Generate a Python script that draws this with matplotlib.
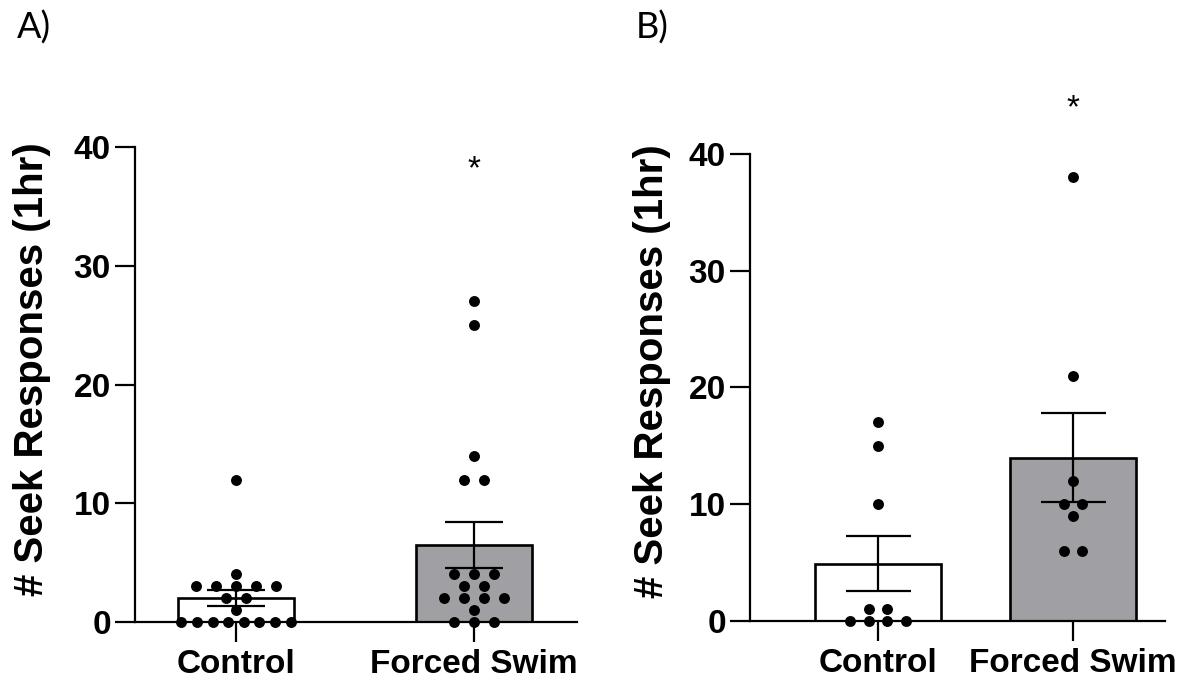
import numpy as np
import matplotlib.pyplot as plt

groups = ["Control", "Forced Swim"]

# panel A: individual seek responses per animal
a_control = [0, 0, 0, 0, 0, 0, 0, 0, 1, 2, 2, 3, 3, 3, 3, 3, 4, 12]
a_swim = [0, 0, 0, 1, 2, 2, 2, 2, 3, 3, 4, 4, 4, 12, 12, 14, 25, 27]

# panel B
b_control = [0, 0, 0, 0, 1, 1, 10, 15, 17]
b_swim = [6, 6, 9, 10, 10, 12, 21, 38]

yticks = [0, 10, 20, 30, 40]
bar_colors = ["white", "#a0a0a4"]

plt.rcParams["font.family"] = ["Liberation Sans", "DejaVu Sans"]


def spread(values, step, max_span):
    # lay tied values out side by side, centred on the column
    values = np.asarray(values, dtype=float)
    offsets = np.zeros(len(values))
    for v in np.unique(values):
        idx = np.where(values == v)[0]
        n = len(idx)
        s = step if n < 2 else min(step, max_span / (n - 1))
        offsets[idx] = (np.arange(n) - (n - 1) / 2) * s
    return offsets


def draw_panel(ax, data, width, step, max_span, capsize, xlim, star_y):
    x = np.arange(len(data))
    means = [np.mean(d) for d in data]
    sems = [np.std(d, ddof=1) / np.sqrt(len(d)) for d in data]

    ax.bar(x, means, width=width, color=bar_colors, edgecolor="black",
           linewidth=1.9, zorder=2)
    ax.errorbar(x, means, yerr=sems, fmt="none", ecolor="black",
                elinewidth=1.6, capsize=capsize, capthick=1.6, zorder=3)
    for i, d in enumerate(data):
        ax.scatter(x[i] + spread(d, step, max_span), d, s=62, color="black",
                   zorder=4, clip_on=False, linewidths=0)

    ax.text(x[1], star_y, "*", ha="center", va="center", fontsize=24,
            clip_on=False)

    ax.set_xlim(*xlim)
    ax.set_ylim(0, 40)
    ax.set_yticks(yticks)
    ax.set_xticks(x)
    ax.set_xticklabels(groups, fontsize=24, fontweight="bold")
    for lbl in ax.get_yticklabels():
        lbl.set_fontsize(24)
        lbl.set_fontweight("bold")
    ax.set_ylabel("# Seek Responses (1hr)", fontsize=29, fontweight="bold")

    for side in ["top", "right"]:
        ax.spines[side].set_visible(False)
    for side in ["left", "bottom"]:
        ax.spines[side].set_linewidth(1.6)
    ax.tick_params(axis="both", length=14.4, width=1.6, direction="out")
    ax.tick_params(axis="y", pad=3)
    ax.tick_params(axis="x", pad=5)


fig = plt.figure(figsize=(11.93, 6.86), dpi=100)

ax1 = fig.add_axes([0.1132, 0.0933, 0.3705, 0.6924])
draw_panel(ax1, [a_control, a_swim], 0.49, 0.084, 0.46, 21, (-0.424, 1.433), 38.1)
ax1.yaxis.set_label_coords(-0.19, 0.533)

ax2 = fig.add_axes([0.6287, 0.0948, 0.3479, 0.6808])
draw_panel(ax2, [b_control, b_swim], 0.65, 0.095, 0.5, 23.4, (-0.656, 1.472), 43.9)
ax2.yaxis.set_label_coords(-0.19, 0.535)

fig.text(0.014, 0.96, "A)", fontsize=26, family=["Lato", "DejaVu Sans"], va="center")
fig.text(0.533, 0.96, "B)", fontsize=26, family=["Lato", "DejaVu Sans"], va="center")

fig.savefig("out.png", dpi=100)
